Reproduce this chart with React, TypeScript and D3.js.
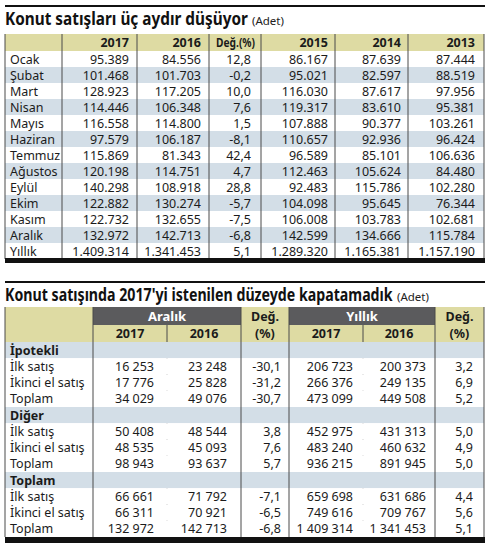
import React, { useLayoutEffect, useRef, useState } from 'react';
import * as d3 from 'd3';

// Top table: monthly housing sales (Adet)
const months = ['Ocak', 'Şubat', 'Mart', 'Nisan', 'Mayıs', 'Haziran', 'Temmuz', 'Ağustos', 'Eylül', 'Ekim', 'Kasım', 'Aralık', 'Yıllık'];
const topHeaders = ['2017', '2016', 'Değ.(%)', '2015', '2014', '2013'];
const sales2017 = [95389, 101468, 128923, 114446, 116558, 97579, 115869, 120198, 140298, 122882, 122732, 132972, 1409314];
const sales2016 = [84556, 101703, 117205, 106348, 114800, 106187, 81343, 114751, 108918, 130274, 132655, 142713, 1341453];
const change1716 = [12.8, -0.2, 10.0, 7.6, 1.5, -8.1, 42.4, 4.7, 28.8, -5.7, -7.5, -6.8, 5.1];
const sales2015 = [86167, 95021, 116030, 119317, 107888, 110657, 96589, 112463, 92483, 104098, 106008, 142599, 1289320];
const sales2014 = [87639, 82597, 87617, 83610, 90377, 92936, 85101, 105624, 115786, 95645, 103783, 134666, 1165381];
const sales2013 = [87444, 88519, 97956, 95381, 103261, 96424, 106636, 84480, 102280, 76344, 102681, 115784, 1157190];

// Bottom table: December and yearly by type
const groups = ['İpotekli', 'Diğer', 'Toplam'];
const subRows = ['İlk satış', 'İkinci el satış', 'Toplam'];
const periods = ['Aralık', 'Yıllık'];
const years = ['2017', '2016'];
const aralik2017 = [16253, 17776, 34029, 50408, 48535, 98943, 66661, 66311, 132972];
const aralik2016 = [23248, 25828, 49076, 48544, 45093, 93637, 71792, 70921, 142713];
const aralikChange = [-30.1, -31.2, -30.7, 3.8, 7.6, 5.7, -7.1, -6.5, -6.8];
const yillik2017 = [206723, 266376, 473099, 452975, 483240, 936215, 659698, 749616, 1409314];
const yillik2016 = [200373, 249135, 449508, 431313, 460632, 891945, 631686, 709767, 1341453];
const yillikChange = [3.2, 6.9, 5.2, 5.0, 4.9, 5.0, 4.4, 5.6, 5.1];

const trDot = d3.formatLocale({ decimal: ',', thousands: '.', grouping: [3], currency: ['', ''], minus: '-' });
const trSpace = d3.formatLocale({ decimal: ',', thousands: ' ', grouping: [3], currency: ['', ''], minus: '-' });
const fmtDot = trDot.format(',d');
const fmtSpace = trSpace.format(',d');
const fmtPct = trDot.format('.1f');

const FONT = "'Noto Sans', 'Open Sans', sans-serif";
const KHAKI = '#dedba3';
const BLUE = '#d3dee7';
const BAND = '#5b5b5d';
const LINE = '#4a4a4a';
const INK = '#1b1b1b';

// squeezes a text horizontally so it takes exactly `width` px (condensed face look)
const FitText: React.FC<{
  x: number;
  y: number;
  width: number;
  anchor?: 'start' | 'end';
  size: number;
  weight?: string;
  fill?: string;
  children: string;
}> = ({ x, y, width, anchor = 'start', size, weight = 'bold', fill = INK, children }) => {
  const ref = useRef<SVGTextElement | null>(null);
  const [k, setK] = useState(1);
  useLayoutEffect(() => {
    if (!ref.current) return;
    const w = ref.current.getComputedTextLength();
    if (w > 0) setK(width / w);
  }, [width, children, size]);
  return (
    <g transform={`translate(${x},${y}) scale(${k},1)`}>
      <text ref={ref} x={0} y={0} textAnchor={anchor} fontFamily={FONT} fontWeight={weight} fontSize={size} fill={fill}>
        {children}
      </text>
    </g>
  );
};

const TopTable: React.FC = () => {
  const cols = [5, 62, 137, 209, 261, 335, 408, 484];
  const y = d3.scaleBand<number>().domain(d3.range(months.length)).range([51, 259]);
  const series = [sales2017, sales2016, change1716, sales2015, sales2014, sales2013];
  const pad = [8, 8, 6, 7, 7, 9];
  const h = y.bandwidth();

  return (
    <g>
      <rect x={5} y={5} width={480} height={2} fill="#111" />
      <FitText x={5} y={25} width={243} size={17} fill="#111">
        Konut satışları üç aydır düşüyor
      </FitText>
      <text x={252} y={25} fontFamily={FONT} fontSize={11.5} fill="#222">(Adet)</text>

      <rect x={cols[0]} y={34} width={cols[7] - cols[0]} height={17} fill={KHAKI} />
      {months.map((m, i) => (
        <rect key={m} x={cols[0]} y={y(i)} width={cols[7] - cols[0]} height={h} fill={i % 2 === 1 ? BLUE : '#fff'} />
      ))}

      {topHeaders.map((t, j) =>
        j === 2 ? (
          <FitText key={t} x={cols[j + 2] - pad[j]} y={47} width={39} anchor="end" size={12.5}>
            {t}
          </FitText>
        ) : (
          <text key={t} x={cols[j + 2] - pad[j]} y={47} textAnchor="end" fontFamily={FONT} fontWeight="bold" fontSize={12.5} fill={INK}>
            {t}
          </text>
        )
      )}

      {months.map((m, i) => (
        <g key={m} transform={`translate(0,${(y(i) ?? 0) + h / 2 + 4.5})`} fontFamily={FONT} fontSize={12.5} fill={INK}>
          <text x={10}>{m}</text>
          {series.map((s, j) => (
            <text key={j} x={cols[j + 2] - (j === 2 ? 10 : pad[j])} textAnchor="end">
              {j === 2 ? fmtPct(s[i]) : fmtDot(s[i])}
            </text>
          ))}
        </g>
      ))}

      {cols.map((c) => (
        <line key={c} x1={c} x2={c} y1={34} y2={259} stroke={LINE} strokeWidth={1} />
      ))}
      <rect x={5} y={258} width={480} height={5} fill="#111" />
    </g>
  );
};

const BottomTable: React.FC = () => {
  const cols = [5, 93, 167, 241, 289, 363, 435, 484];
  const rows: { label: string; group: boolean; k: number }[] = [];
  groups.forEach((g, gi) => {
    rows.push({ label: g, group: true, k: -1 });
    subRows.forEach((s, si) => rows.push({ label: s, group: false, k: gi * 3 + si }));
  });
  const y = d3.scaleBand<number>().domain(d3.range(rows.length)).range([342, 537]);
  const h = y.bandwidth();
  const series = [aralik2017, aralik2016, aralikChange, yillik2017, yillik2016, yillikChange];
  const pad = [13, 14, 8, 10, 9, 11];

  return (
    <g>
      <rect x={5} y={281} width={480} height={2} fill="#111" />
      <FitText x={5} y={301} width={388} size={17} fill="#111">
        Konut satışında 2017'yi istenilen düzeyde kapatamadık
      </FitText>
      <text x={397} y={301} fontFamily={FONT} fontSize={11.5} fill="#222">(Adet)</text>

      <rect x={cols[0]} y={307} width={cols[7] - cols[0]} height={35} fill={KHAKI} />
      {periods.map((p, pi) => {
        const x0 = cols[1 + pi * 3];
        const x1 = cols[3 + pi * 3];
        return (
          <g key={p}>
            <rect x={x0} y={307} width={x1 - x0} height={18} fill={BAND} />
            <text x={(x0 + x1) / 2} y={320.5} textAnchor="middle" fontFamily={FONT} fontWeight="bold" fontSize={13} fill="#fff">
              {p}
            </text>
            {years.map((yr, yi) => (
              <text key={yr} x={(cols[1 + pi * 3 + yi] + cols[2 + pi * 3 + yi]) / 2} y={338} textAnchor="middle" fontFamily={FONT} fontWeight="bold" fontSize={12.5} fill={INK}>
                {yr}
              </text>
            ))}
            <text x={(cols[3 + pi * 3] + cols[4 + pi * 3]) / 2} y={320.5} textAnchor="middle" fontFamily={FONT} fontWeight="bold" fontSize={12.5} fill={INK}>
              Değ.
            </text>
            <text x={(cols[3 + pi * 3] + cols[4 + pi * 3]) / 2} y={338} textAnchor="middle" fontFamily={FONT} fontWeight="bold" fontSize={12.5} fill={INK}>
              (%)
            </text>
            <line x1={cols[2 + pi * 3]} x2={cols[2 + pi * 3]} y1={325} y2={537} stroke={LINE} strokeWidth={1} />
          </g>
        );
      })}

      {rows.map((r, i) => (
        <g key={i}>
          <rect x={cols[0]} y={y(i)} width={cols[7] - cols[0]} height={h} fill={r.group ? BLUE : '#fff'} />
          <g transform={`translate(0,${(y(i) ?? 0) + h / 2 + 4.5})`} fontFamily={FONT} fontSize={12.5} fill={INK}>
            <text x={10} fontWeight={r.group ? 'bold' : 'normal'}>{r.label}</text>
            {!r.group &&
              series.map((s, j) => (
                <text key={j} x={cols[j + 2] - pad[j]} textAnchor="end">
                  {j === 2 || j === 5 ? fmtPct(s[r.k]) : fmtSpace(s[r.k])}
                </text>
              ))}
          </g>
        </g>
      ))}

      {[cols[0], cols[1], cols[3], cols[4], cols[6], cols[7]].map((c) => (
        <line key={c} x1={c} x2={c} y1={307} y2={537} stroke={LINE} strokeWidth={1} />
      ))}
      <rect x={5} y={537} width={480} height={6} fill="#111" />
    </g>
  );
};

export default function App() {
  return (
    <svg width={493} height={543} style={{ position: 'absolute', left: 0, top: 0, background: '#fff' }}>
      <rect width={493} height={543} fill="#fff" />
      <TopTable />
      <BottomTable />
    </svg>
  );
}
